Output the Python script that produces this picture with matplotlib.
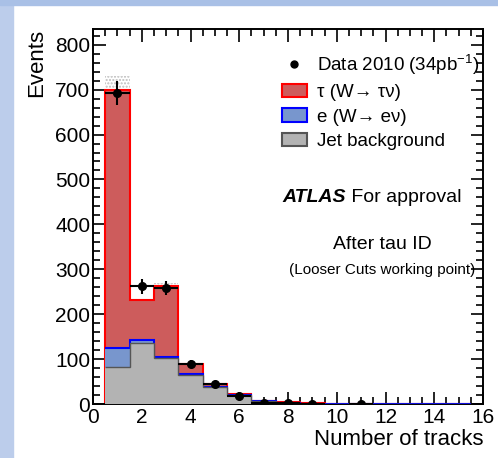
import numpy as np
import matplotlib
matplotlib.use("Agg")
import matplotlib.pyplot as plt
from matplotlib.patches import Patch, Rectangle
from matplotlib.lines import Line2D
from matplotlib.ticker import MultipleLocator

plt.rcParams['font.family'] = ['Liberation Sans', 'DejaVu Sans']

# bins: number of tracks 1..15, width 1
edges = np.arange(0.5, 16.5, 1.0)
n_tracks = np.arange(1, 16)

jet_bkg = [82, 136, 102, 65, 38, 20, 6, 3, 1, 0.5, 0.3, 0.2, 0.1, 0, 0]
e_wenu = [43, 7, 2, 1, 0.5, 0.3, 0.1, 0, 0, 0, 0, 0, 0, 0, 0]
tau_wtaunu = [575, 89, 158, 23, 6.5, 1.7, 1, 0.5, 0.2, 0, 0, 0, 0, 0, 0]
mc_unc = [30, 5, 8, 3, 2, 1, 0.5, 0.3, 0.2, 0, 0, 0, 0, 0, 0]

data_x = [1, 2, 3, 4, 5, 6, 7, 8, 9, 11]
data_y = [693, 262, 258, 89, 45, 18, 3, 2, 1, 1]

yticks = [0, 100, 200, 300, 400, 500, 600, 700, 800]
xticks = [0, 2, 4, 6, 8, 10, 12, 14, 16]

tau_fill, tau_edge = '#cd5c5c', '#ff0000'
e_fill, e_edge = '#7896cd', '#0000ff'
jet_fill, jet_edge = '#b3b3b3', '#555555'

fig = plt.figure(figsize=(4.98, 4.58), dpi=100)
fig.patches.append(Rectangle((0, 0), 13/498, 1, transform=fig.transFigure,
                             color='#bccdeb', zorder=0))
fig.patches.append(Rectangle((0, 1 - 5/458), 1, 5/458, transform=fig.transFigure,
                             color='#a9c0e6', zorder=0))
ax = fig.add_axes([93/498, 1 - 404/458, 390/498, 375/458])

jet = np.array(jet_bkg)
e_plus_jet = jet + np.array(e_wenu)
total = e_plus_jet + np.array(tau_wtaunu)
unc = np.array(mc_unc)

# mc uncertainty band (only shows above the stack)
ax.bar(n_tracks, 2*unc, bottom=total - unc, width=1.0, color='none',
       edgecolor='#bdbdbd', hatch='.....', linewidth=0, zorder=1)

ax.stairs(total, edges, fill=True, color=tau_fill, zorder=2)
ax.stairs(total, edges, color=tau_edge, linewidth=1.5, baseline=0, zorder=2.5)
ax.stairs(e_plus_jet, edges, fill=True, color=e_fill, zorder=3)
ax.stairs(e_plus_jet, edges, color=e_edge, linewidth=1.5, baseline=None, zorder=3.5)
ax.stairs(jet, edges, fill=True, color=jet_fill, zorder=4)
ax.stairs(jet, edges, color=jet_edge, linewidth=1.0, baseline=None, zorder=4.5)

ax.errorbar(data_x, data_y, yerr=np.sqrt(data_y), xerr=0.5, fmt='o',
            color='black', markersize=5.5, elinewidth=1.5, capsize=0, zorder=6)

ax.set_xlim(0, 16)
ax.set_ylim(0, 835)
ax.set_xticks(xticks)
ax.set_yticks(yticks)
ax.xaxis.set_minor_locator(MultipleLocator(0.5))
ax.yaxis.set_minor_locator(MultipleLocator(20))
ax.tick_params(which='both', direction='in', top=True, right=True, width=1.2,
               labelsize=15, colors='black')
ax.tick_params(which='major', length=9)
ax.tick_params(which='minor', length=5)
ax.tick_params(axis='x', which='major', pad=3)
ax.tick_params(axis='y', which='major', pad=2)
for sp in ax.spines.values():
    sp.set_linewidth(1.4)

ax.set_xlabel('Number of tracks', fontsize=16, loc='right', labelpad=1)
ax.set_ylabel('Events', fontsize=16, loc='top', labelpad=6)

handles = [
    Line2D([], [], marker='o', color='black', linestyle='none', markersize=5),
    Patch(facecolor=tau_fill, edgecolor=tau_edge, linewidth=1.5),
    Patch(facecolor=e_fill, edgecolor=e_edge, linewidth=1.5),
    Patch(facecolor=jet_fill, edgecolor=jet_edge, linewidth=1.5),
]
labels = ['Data 2010 (34pb$^{\\mathregular{-1}}$)', 'τ (W→ τν)', 'e (W→ eν)',
          'Jet background']
ax.legend(handles, labels, loc='upper left', bbox_to_anchor=(0.485, 0.938),
          frameon=False, fontsize=13.5, handlelength=1.3, handleheight=0.7,
          handletextpad=0.55, labelspacing=0.38, borderpad=0, borderaxespad=0)

t = ax.text(0.485, 0.55, 'ATLAS', transform=ax.transAxes, fontsize=14,
            fontweight='bold', fontstyle='italic', va='center')
ax.annotate(' For approval', xy=(1, 0), xycoords=t, va='bottom', fontsize=14)
ax.text(0.741, 0.424, 'After tau ID', transform=ax.transAxes, fontsize=14,
        ha='center', va='center')
ax.text(0.741, 0.357, '(Looser Cuts working point)', transform=ax.transAxes,
        fontsize=11, ha='center', va='center')

fig.savefig('out.png', dpi=100)
